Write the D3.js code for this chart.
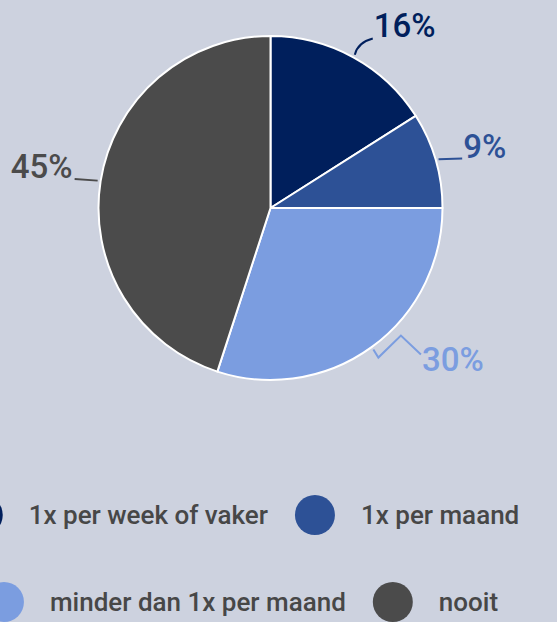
<!DOCTYPE html>
<html lang="nl">
<head>
    <meta charset="UTF-8">
    <title>Pie chart</title>
    <style>
        body {
            margin: 0;
            background: #cdd2df;
        }
        svg {
            display: block;
            font-family: Roboto, "Noto Sans", sans-serif;
        }
        .label {
            font-size: 33px;
            font-weight: 500;
        }
        .legend text {
            font-size: 26px;
            font-weight: 500;
            fill: #474747;
        }
    </style>
</head>
<body>
    <svg width="557" height="622"></svg>
    <script src="https://d3js.org/d3.v7.min.js"></script>
    <script>

const categories = ["1x per week of vaker", "1x per maand", "minder dan 1x per maand", "nooit"];
const values = [16, 9, 30, 45];
const colors = ["#001f5c", "#2d5196", "#7b9de0", "#4b4b4b"];

        const svg = d3.select("svg"),
              width = +svg.attr("width"),
              height = +svg.attr("height");

        const cx = 270.5, cy = 208, radius = 172;

        const pie = d3.pie().sort(null).value(d => d.value);
        const arc = d3.arc().innerRadius(0).outerRadius(radius);

        const data = categories.map((c, i) => ({ name: c, value: values[i], color: colors[i] }));
        const arcs = pie(data);

        const g = svg.append("g").attr("transform", `translate(${cx},${cy})`);

        g.selectAll("path.slice")
            .data(arcs)
            .enter().append("path")
            .attr("class", "slice")
            .attr("d", arc)
            .attr("fill", d => d.data.color)
            .attr("stroke", "#fff")
            .attr("stroke-width", 2)
            .attr("stroke-linejoin", "round");

        // point on a circle of radius r at angle a (clockwise from 12 o'clock)
        const pt = (a, r) => [Math.sin(a) * r, -Math.cos(a) * r];

        // data labels with connectors
        const labels = g.append("g");
        arcs.forEach((d, i) => {
            const mid = (d.startAngle + d.endAngle) / 2;
            const start = pt(mid, radius + 3);
            const right = Math.sin(mid) > 0;
            let path, anchor, base;
            if (i === 0) {
                // soft curved connector
                anchor = pt(mid + 0.04, radius + 26);
                path = `M${start}Q${start[0] + 3},${anchor[1] + 4} ${anchor}`;
                base = anchor[1] - 1;
            } else if (i === 2) {
                // crooked connector, label pushed along the rim
                const a = pt(mid - 0.17, radius + 38);
                const p1 = [start[0] + 5, start[1] + 8];
                const p2 = [a[0] - 20, a[1] - 19];
                anchor = a;
                path = `M${start}L${p1}L${p2}L${anchor}`;
                base = anchor[1] + 16;
            } else {
                anchor = pt(mid + (right ? 0.03 : -0.01), radius + 26);
                path = `M${start}L${anchor}`;
                base = anchor[1] - 1;
            }
            labels.append("path")
                .attr("d", path)
                .attr("fill", "none")
                .attr("stroke", d.data.color)
                .attr("stroke-width", 2);
            labels.append("text")
                .attr("class", "label")
                .attr("x", anchor[0] + (right ? 1 : -2))
                .attr("y", base)
                .attr("text-anchor", right ? "start" : "end")
                .attr("fill", d.data.color)
                .text(d.data.value + "%");
        });

        // legend, two rows, centred
        const legend = svg.append("g").attr("class", "legend");
        const rows = [[0, 1], [2, 3]];
        const rowY = [515, 602];
        const legendCenter = 241, symR = 20, textOff = 46, gap = 27;

        rows.forEach((row, ri) => {
            const items = row.map(i => {
                const item = legend.append("g");
                item.append("circle")
                    .attr("r", symR)
                    .attr("fill", data[i].color);
                const t = item.append("text")
                    .attr("x", textOff)
                    .attr("dy", "0.35em")
                    .text(data[i].name);
                return { item, w: textOff + symR + t.node().getComputedTextLength() };
            });
            const total = d3.sum(items, d => d.w) + gap * (items.length - 1);
            let x = legendCenter - total / 2;
            items.forEach(it => {
                it.item.attr("transform", `translate(${x + symR},${rowY[ri]})`);
                x += it.w + gap;
            });
        });
    </script>
</body>
</html>
